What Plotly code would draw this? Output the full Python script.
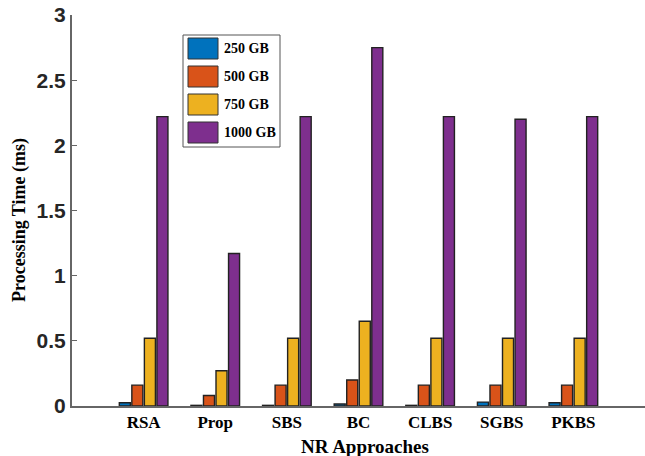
import plotly.graph_objects as go

# Processing time (ms) per NR approach for each data size
approaches = ["RSA", "Prop", "SBS", "BC", "CLBS", "SGBS", "PKBS"]
size_labels = ["250 GB", "500 GB", "750 GB", "1000 GB"]
t_250 = [0.025, 0.005, 0.005, 0.015, 0.005, 0.03, 0.025]
t_500 = [0.16, 0.08, 0.16, 0.20, 0.16, 0.16, 0.16]
t_750 = [0.52, 0.27, 0.52, 0.65, 0.52, 0.52, 0.52]
t_1000 = [2.22, 1.17, 2.22, 2.75, 2.22, 2.20, 2.22]
y_ticks = [0, 0.5, 1, 1.5, 2, 2.5, 3]
y_tick_text = ["0", "0.5", "1", "1.5", "2", "2.5", "3"]

colors = ["#0072BD", "#D95319", "#EDB120", "#7E2F8E"]
series = [t_250, t_500, t_750, t_1000]
x_pos = list(range(1, len(approaches) + 1))

fig = go.Figure()
for name, vals, col in zip(size_labels, series, colors):
    fig.add_trace(go.Bar(
        x=x_pos, y=vals, name=name,
        marker=dict(color=col, line=dict(color="#222222", width=1.4)),
        showlegend=False,
    ))

# Boxed legend with large swatches
lx0, lx1, ly_top, ly_bot = 183, 280, 35, 147
W, H = 645, 456
L, R, T, B = 72, 0, 15, 50
pw, ph = W - L - R, H - T - B

def px_to_paper(x, y):
    return (x - L) / pw, 1 - (y - T) / ph

shapes = []
annotations = []
x0p, y0p = px_to_paper(lx0, ly_top)
x1p, y1p = px_to_paper(lx1, ly_bot)
shapes.append(dict(type="rect", xref="paper", yref="paper", x0=x0p, x1=x1p,
                   y0=y1p, y1=y0p, line=dict(color="#555555", width=1),
                   fillcolor="white", layer="above"))
row_top = [38, 66, 94, 122]
for i, (name, col) in enumerate(zip(size_labels, colors)):
    sx0, sy0 = px_to_paper(188, row_top[i])
    sx1, sy1 = px_to_paper(218, row_top[i] + 21)
    shapes.append(dict(type="rect", xref="paper", yref="paper", x0=sx0, x1=sx1,
                       y0=sy1, y1=sy0, line=dict(color="#333333", width=1),
                       fillcolor=col, layer="above"))
    tx, ty = px_to_paper(222, row_top[i] + 10.5)
    annotations.append(dict(xref="paper", yref="paper", x=tx, y=ty,
                            text="<b>" + name + "</b>",
                            showarrow=False, xanchor="left", yanchor="middle",
                            font=dict(family="Liberation Serif", size=14,
                                      color="black")))

annotations.append(dict(xref="paper", yref="paper",
                        x=(19 - L) / pw, y=1 - (220 - T) / ph,
                        text="<b>Processing Time (ms)</b>", textangle=-90,
                        showarrow=False, xanchor="center", yanchor="middle",
                        font=dict(family="Liberation Serif", size=18,
                                  color="black")))
annotations.append(dict(xref="paper", yref="paper",
                        x=(365 - L) / pw, y=1 - (446 - T) / ph,
                        text="<b>NR Approaches</b>", showarrow=False,
                        xanchor="center", yanchor="middle",
                        font=dict(family="Liberation Serif", size=19,
                                  color="black")))

fig.update_layout(
    width=W, height=H,
    margin=dict(l=L, r=R, t=T, b=B),
    paper_bgcolor="white", plot_bgcolor="white",
    barmode="group", bargap=0.3, bargroupgap=0.12,
    shapes=shapes, annotations=annotations,
    showlegend=False,
)
fig.update_xaxes(
    range=[0, 8], tickvals=x_pos,
    ticktext=["<b>" + a + "</b>" for a in approaches],
    showline=True, linecolor="#666666", linewidth=2,
    showgrid=False, zeroline=False, ticks="",
    tickfont=dict(family="Liberation Serif", size=17, color="black"),
)
fig.update_yaxes(
    range=[0, 3], tickvals=y_ticks,
    ticktext=["<b>" + t + "</b>" for t in y_tick_text],
    showline=True, linecolor="#666666", linewidth=2,
    showgrid=False, zeroline=False, ticks="inside", ticklen=5,
    tickcolor="#666666",
    tickfont=dict(family="Liberation Sans", size=21, color="#262626"),
)

fig.write_html("out.html")
